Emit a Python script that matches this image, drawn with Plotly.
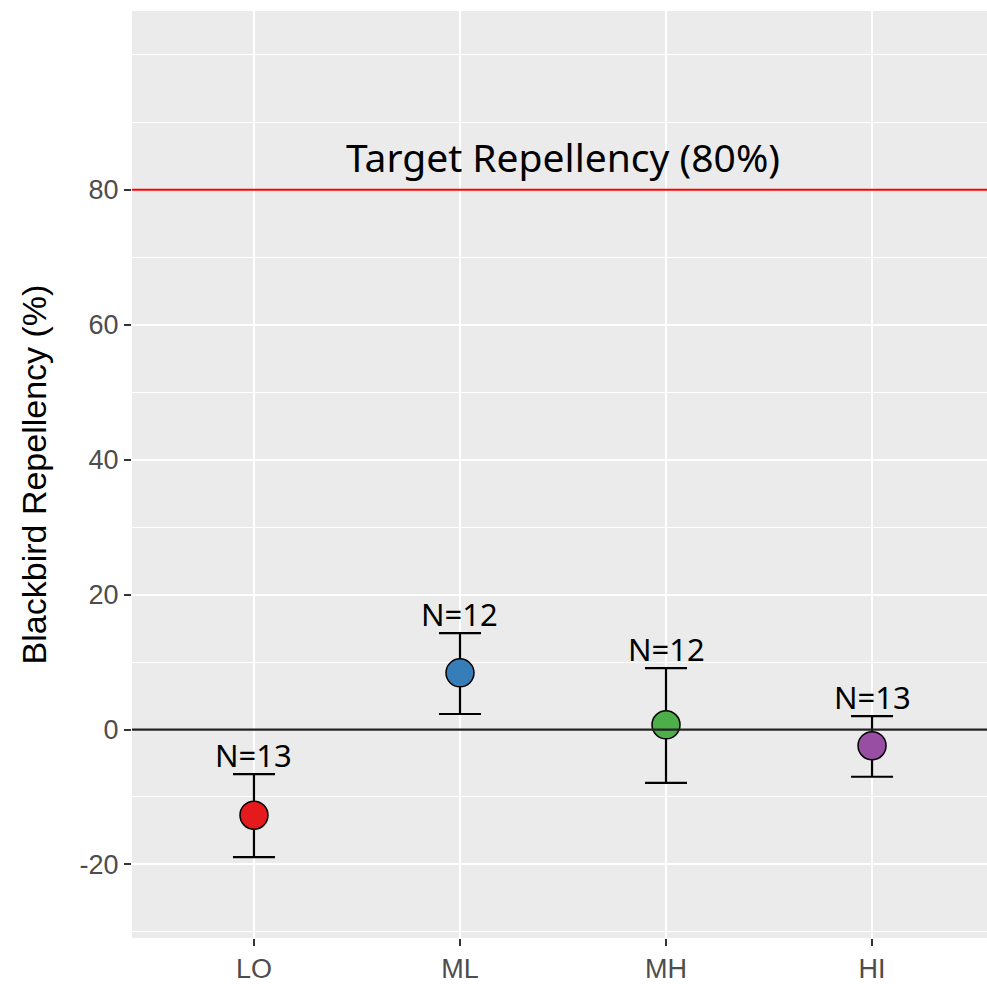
import plotly.graph_objects as go

# Data
categories = ["LO", "ML", "MH", "HI"]
means = [-12.7, 8.4, 0.7, -2.4]
upper_err = [6.1, 5.9, 8.4, 4.4]
lower_err = [6.2, 6.1, 8.6, 4.6]
colors = ["#E41A1C", "#377EB8", "#4DAF4A", "#984EA3"]
n_labels = ["N=13", "N=12", "N=12", "N=13"]
target_value = 80
target_label = "Target Repellency (80%)"
y_ticks = [-20, 0, 20, 40, 60, 80]
y_ticktext = ["-20", "0", "20", "40", "60", "80"]
y_minor = [-30, -10, 10, 30, 50, 70, 90, 100]

AX_FONT = "Liberation Sans"

fig = go.Figure()

fig.add_trace(go.Scatter(
    x=categories, y=means, mode="markers",
    marker=dict(size=28, color=colors, line=dict(color="black", width=1.5)),
    error_y=dict(type="data", symmetric=False, array=upper_err, arrayminus=lower_err,
                 color="black", thickness=2.2, width=21),
    showlegend=False, hoverinfo="skip",
))

# reference lines
fig.add_shape(type="line", xref="paper", x0=0, x1=1, yref="y", y0=target_value, y1=target_value,
              line=dict(color="red", width=2), layer="above")
fig.add_shape(type="line", xref="paper", x0=0, x1=1, yref="y", y0=0, y1=0,
              line=dict(color="#222222", width=2.2), layer="above")

annot_font = dict(family="Noto Sans", size=31, color="black")
for c, m, u, lab in zip(categories, means, upper_err, n_labels):
    fig.add_annotation(x=c, y=m + u, text=lab, showarrow=False, yanchor="bottom",
                       yshift=-4, font=annot_font)

fig.add_annotation(x=1.5, y=target_value + 5, text=target_label, showarrow=False,
                   yanchor="middle", font=dict(family="Noto Sans", size=39, color="black"))

fig.update_layout(
    width=987, height=984,
    margin=dict(l=132, r=0, t=11, b=44),
    paper_bgcolor="white", plot_bgcolor="#EBEBEB",
    font=dict(family=AX_FONT),
)
fig.update_xaxes(
    type="category", categoryorder="array", categoryarray=categories,
    range=[-0.592, 3.558],
    showgrid=True, gridcolor="white", gridwidth=2.4,
    ticks="outside", ticklen=7, tickwidth=2, tickcolor="#333333",
    tickfont=dict(family=AX_FONT, size=27, color="#4D4D4D"), zeroline=False, showline=False,
)
fig.update_yaxes(
    range=[-30.9, 106.5], tickvals=y_ticks, ticktext=y_ticktext,
    showgrid=True, gridcolor="white", gridwidth=2.4,
    minor=dict(tickvals=y_minor, showgrid=True, gridcolor="white", gridwidth=1.2, ticks=""),
    ticks="outside", ticklen=7, tickwidth=2, tickcolor="#333333",
    tickfont=dict(family=AX_FONT, size=27, color="#4D4D4D"), zeroline=False, showline=False,
    title=dict(text="Blackbird Repellency (%)",
               font=dict(family=AX_FONT, size=34, color="black"), standoff=22),
)

fig.write_html("out.html")
